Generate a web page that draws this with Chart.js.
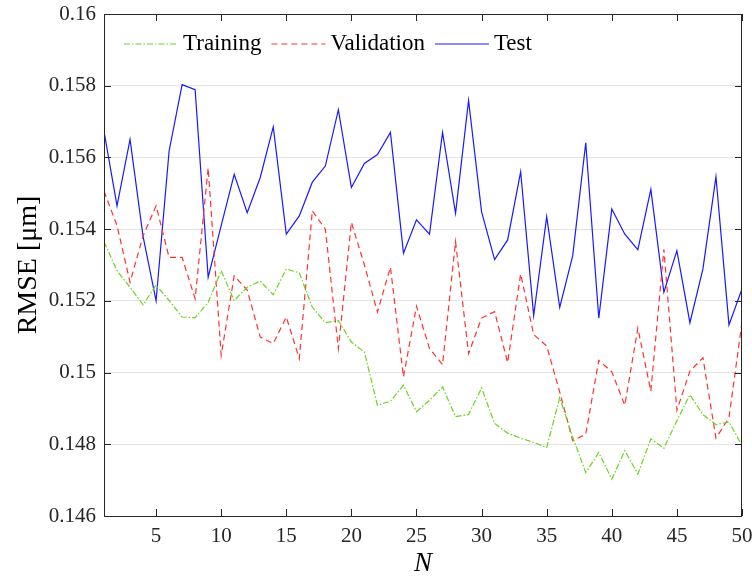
<!DOCTYPE html>
<html>
<head>
<meta charset="utf-8">
<script src="https://cdn.jsdelivr.net/npm/chart.js@4.4.1/dist/chart.umd.min.js"></script>
<style>
  html, body { margin: 0; padding: 0; background: #fff; }
  #wrap { width: 752px; height: 583px; }
</style>
</head>
<body>
<div id="wrap"><canvas id="rmse-chart" width="752" height="583"></canvas></div>
<script>
// N = 1..50
var nValues = [1,2,3,4,5,6,7,8,9,10,11,12,13,14,15,16,17,18,19,20,
               21,22,23,24,25,26,27,28,29,30,31,32,33,34,35,36,37,38,39,40,
               41,42,43,44,45,46,47,48,49,50];

var trainingRmse = [0.15365,0.15284,0.15238,0.15189,0.15244,0.15201,0.15155,0.15153,0.15196,0.15284,
                    0.15201,0.15238,0.15255,0.15217,0.15289,0.15278,0.15182,0.15139,0.15145,0.15085,
                    0.15057,0.14909,0.14920,0.14965,0.14891,0.14923,0.14960,0.14877,0.14883,0.14957,
                    0.14858,0.14831,0.14817,0.14805,0.14791,0.14930,0.14820,0.14721,0.14777,0.14703,
                    0.14782,0.14717,0.14815,0.14789,0.14866,0.14938,0.14883,0.14855,0.14862,0.14797];

var validationRmse = [0.15506,0.15410,0.15252,0.15381,0.15465,0.15321,0.15321,0.15206,0.15571,0.15048,
                      0.15270,0.15230,0.15099,0.15081,0.15155,0.15039,0.15451,0.15400,0.15067,0.15419,
                      0.15300,0.15169,0.15294,0.14988,0.15185,0.15067,0.15022,0.15365,0.15053,0.15152,
                      0.15170,0.15028,0.15275,0.15106,0.15074,0.14946,0.14810,0.14828,0.15034,0.15002,
                      0.14909,0.15124,0.14948,0.15344,0.14895,0.15004,0.15041,0.14817,0.14874,0.15141];

var testRmse = [0.15673,0.15465,0.15650,0.15380,0.15200,0.15618,0.15803,0.15789,0.15266,0.15410,
                0.15553,0.15446,0.15544,0.15685,0.15386,0.15437,0.15531,0.15576,0.15733,0.15516,
                0.15583,0.15608,0.15670,0.15333,0.15426,0.15386,0.15670,0.15444,0.15759,0.15448,
                0.15315,0.15370,0.15560,0.15159,0.15435,0.15182,0.15326,0.15641,0.15152,0.15456,
                0.15386,0.15343,0.15511,0.15224,0.15340,0.15139,0.15289,0.15546,0.15133,0.15233];

var xTicks = [5,10,15,20,25,30,35,40,45,50];
var yTicks = [0.146,0.148,0.15,0.152,0.154,0.156,0.158,0.16];

var serif = "'Liberation Serif', 'DejaVu Serif', serif";
var axisColor = '#262626';

function toPoints(ys){
	var pts = [];
	for (var i = 0; i < nValues.length; i++) { pts.push({x: nValues[i], y: ys[i]}); }
	return pts;
}

// box around the plot plus inward tick marks on all four sides
var boxPlugin = {
	id: 'boxTicks',
	afterDraw: function(chart){
		var ctx = chart.ctx, a = chart.chartArea;
		var xs = chart.scales.x, ys = chart.scales.y;
		var tl = 7;
		ctx.save();
		ctx.strokeStyle = axisColor;
		ctx.lineWidth = 1;
		ctx.beginPath();
		ctx.rect(Math.round(a.left) + 0.5, Math.round(a.top) + 0.5,
		         Math.round(a.right - a.left) - 1, Math.round(a.bottom - a.top));
		ctx.stroke();
		ctx.beginPath();
		xTicks.forEach(function(v){
			var px = Math.round(xs.getPixelForValue(v)) + 0.5;
			ctx.moveTo(px, a.bottom); ctx.lineTo(px, a.bottom - tl);
			ctx.moveTo(px, a.top); ctx.lineTo(px, a.top + tl);
		});
		yTicks.forEach(function(v){
			var py = Math.round(ys.getPixelForValue(v)) + 0.5;
			ctx.moveTo(a.left, py); ctx.lineTo(a.left + tl, py);
			ctx.moveTo(a.right, py); ctx.lineTo(a.right - tl, py);
		});
		ctx.stroke();
		ctx.restore();
	}
};

// legend inside the top-left corner, no frame
var legendPlugin = {
	id: 'insideLegend',
	afterDraw: function(chart){
		var ctx = chart.ctx, a = chart.chartArea;
		var x = a.left + 20, y = a.top + 30;
		ctx.save();
		ctx.font = '23px ' + serif;
		ctx.textBaseline = 'middle';
		ctx.textAlign = 'left';
		chart.data.datasets.forEach(function(ds){
			ctx.strokeStyle = ds.borderColor;
			ctx.lineWidth = ds.borderWidth;
			ctx.setLineDash(ds.borderDash || []);
			ctx.beginPath();
			ctx.moveTo(x, y); ctx.lineTo(x + 54, y);
			ctx.stroke();
			ctx.setLineDash([]);
			ctx.fillStyle = '#000';
			ctx.fillText(ds.label, x + 59, y);
			x += 59 + ctx.measureText(ds.label).width + 10;
		});
		ctx.restore();
	}
};

var ctx = document.getElementById('rmse-chart').getContext('2d');
var rmseChart = new Chart(ctx, {
	type: 'line',
	data: {
		datasets: [{
			label: 'Training',
			data: toPoints(trainingRmse),
			borderColor: 'rgb(110,210,30)',
			borderWidth: 1.2,
			borderDash: [6, 2, 1.5, 2],
			pointRadius: 0,
			tension: 0,
			fill: false
		},{
			label: 'Validation',
			data: toPoints(validationRmse),
			borderColor: 'rgb(255,50,50)',
			borderWidth: 1.2,
			borderDash: [6, 4],
			pointRadius: 0,
			tension: 0,
			fill: false
		},{
			label: 'Test',
			data: toPoints(testRmse),
			borderColor: 'rgb(25,25,255)',
			borderWidth: 1.2,
			pointRadius: 0,
			tension: 0,
			fill: false
		}]
	},
	options: {
		responsive: false,
		animation: false,
		events: [],
		layout: { padding: { top: 14, right: 10, left: 0, bottom: 0 } },
		plugins: {
			legend: { display: false },
			tooltip: { enabled: false }
		},
		scales: {
			x: {
				type: 'linear',
				min: 1,
				max: 50,
				afterBuildTicks: function(s){ s.ticks = xTicks.map(function(v){ return {value: v}; }); },
				afterFit: function(s){ s.height = 67; s.paddingLeft = 0; s.paddingRight = 0; },
				grid: { display: false, drawTicks: false },
				border: { display: false },
				ticks: {
					padding: 8,
					maxRotation: 0,
					color: axisColor,
					font: { family: serif, size: 21 }
				},
				title: {
					display: true,
					text: 'N',
					color: '#000',
					padding: { top: 0, bottom: 3 },
					font: { family: serif, size: 27, style: 'italic' }
				}
			},
			y: {
				min: 0.146,
				max: 0.16,
				afterBuildTicks: function(s){ s.ticks = yTicks.map(function(v){ return {value: v}; }); },
				afterFit: function(s){ s.width = 104; s.paddingTop = 0; s.paddingBottom = 0; },
				grid: { color: '#e4e4e4', lineWidth: 1, drawTicks: false },
				border: { display: false },
				ticks: {
					padding: 8,
					color: axisColor,
					font: { family: serif, size: 21 },
					callback: function(v){ return String(+v.toFixed(3)); }
				},
				title: {
					display: true,
					text: 'RMSE [μm]',
					color: '#000',
					padding: { top: 12, bottom: 0 },
					font: { family: serif, size: 28 }
				}
			}
		}
	},
	plugins: [boxPlugin, legendPlugin]
});
</script>
</body>
</html>
